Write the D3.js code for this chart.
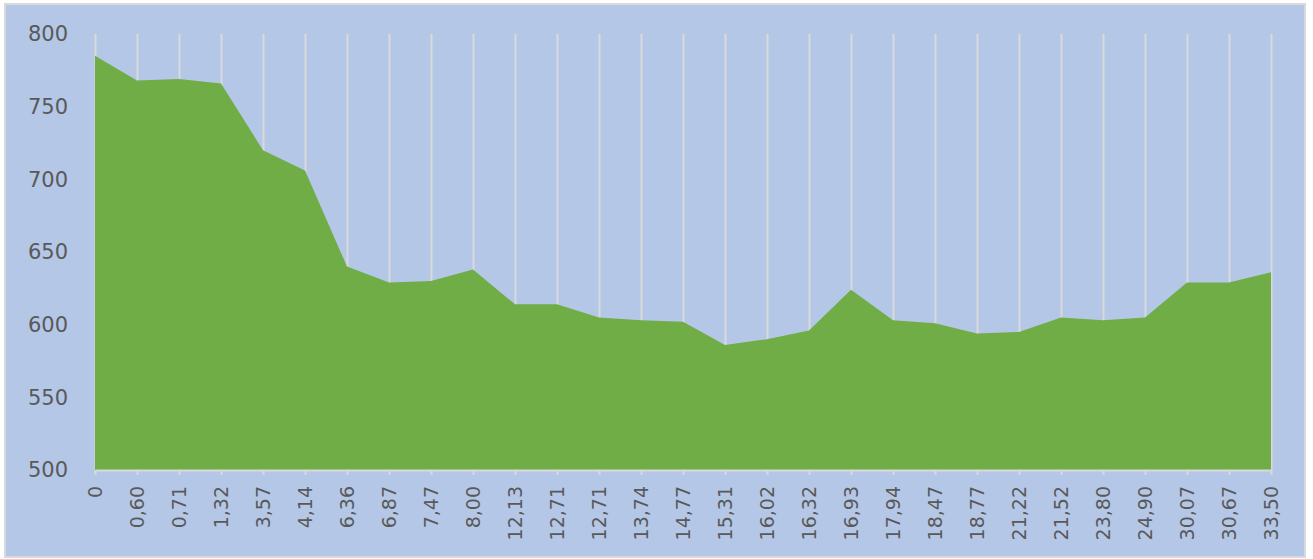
<!DOCTYPE html>
<html>
<head>
<meta charset="utf-8">
<script src="https://cdn.jsdelivr.net/npm/d3@7"></script>
<style>
  body { margin: 0; background: #ffffff; }
  svg { display: block; }
</style>
</head>
<body>
<div id="chart"></div>
<script>
// category labels (x axis), note 12,71 appears twice
var categories = ["0", "0,60", "0,71", "1,32", "3,57", "4,14", "6,36", "6,87", "7,47", "8,00",
    "12,13", "12,71", "12,71", "13,74", "14,77", "15,31", "16,02", "16,32", "16,93", "17,94",
    "18,47", "18,77", "21,22", "21,52", "23,80", "24,90", "30,07", "30,67", "33,50"];
var values = [785, 768, 769, 766, 720, 706, 640, 629, 630, 638,
    614, 614, 605, 603, 602, 586, 590, 596, 624, 603,
    601, 594, 595, 605, 603, 605, 629, 629, 636];
var yTicks = [500, 550, 600, 650, 700, 750, 800];

var w = 1313,
    h = 559;
var margin = { top: 34, right: 42, bottom: 89, left: 95 };
var width = w - margin.left - margin.right,
    height = h - margin.top - margin.bottom;

var svg = d3.select('#chart').append('svg')
    .attr('width', w)
    .attr('height', h);

// chart background with light frame
svg.append('rect')
    .attr('x', 5).attr('y', 4)
    .attr('width', 1300).attr('height', 553)
    .attr('fill', '#b4c7e7')
    .attr('stroke', '#d9d9d9')
    .attr('stroke-width', 2);

var g = svg.append('g')
    .attr('transform', 'translate(' + margin.left + ',' + margin.top + ')');

var x = d3.scalePoint()
    .domain(d3.range(categories.length))
    .range([0, width]);

var y = d3.scaleLinear()
    .domain([500, 800])
    .range([height, 0]);

// vertical gridlines at every category
g.append('g').attr('class', 'grid')
    .call(d3.axisBottom(x).tickSize(-height).tickFormat(''))
    .attr('transform', 'translate(0,' + height + ')')
    .call(function(s) {
        s.select('.domain').remove();
        s.selectAll('line').attr('stroke', '#d9d9d9').attr('stroke-width', 2);
    });

// the area
var area = d3.area()
    .x(function(d, i) { return x(i); })
    .y0(height)
    .y1(function(d) { return y(d); });

g.append('path')
    .datum(values)
    .attr('d', area)
    .attr('fill', '#70ad47');

// x axis
g.append('g')
    .attr('transform', 'translate(0,' + height + ')')
    .call(d3.axisBottom(x).tickSize(5).tickSizeOuter(0).tickFormat(function(i) { return categories[i]; }))
    .call(function(s) {
        s.select('.domain').attr('stroke', '#d9d9d9').attr('stroke-width', 2);
        s.selectAll('line').attr('stroke', '#d9d9d9').attr('stroke-width', 2);
        s.selectAll('text')
            .attr('transform', 'rotate(-90)')
            .attr('x', -16)
            .attr('y', 0)
            .attr('dy', '0.35em')
            .attr('text-anchor', 'end')
            .attr('font-family', 'DejaVu Sans')
            .attr('font-size', '19px')
            .attr('fill', '#595959');
    });

// y axis, labels only
g.append('g')
    .call(d3.axisLeft(y).tickValues(yTicks).tickSize(0).tickPadding(27))
    .call(function(s) {
        s.select('.domain').remove();
        s.selectAll('text')
            .attr('font-family', 'DejaVu Sans')
            .attr('font-size', '21px')
            .attr('fill', '#595959');
    });
</script>
</body>
</html>
